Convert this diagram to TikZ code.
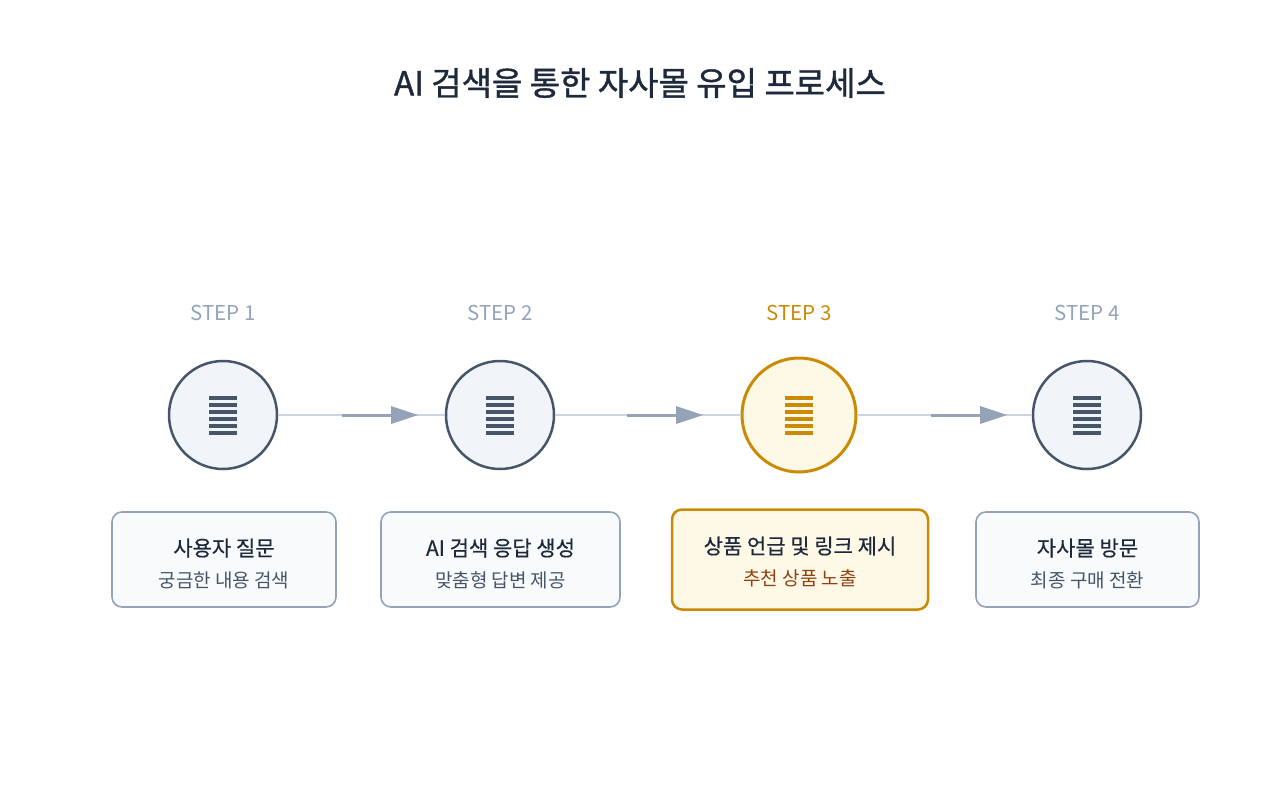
\documentclass[tikz,border=0pt]{standalone}
\usepackage{fontspec}
\setmainfont{Noto Sans CJK KR}
\newfontfamily\medf[FakeBold=1.2]{Noto Sans CJK KR}
\newfontfamily\lmedf[FakeBold=0.5]{Noto Sans CJK KR}
\usetikzlibrary{calc}
\begin{document}
\begin{tikzpicture}[x=1pt,y=-1pt,
  circ/.style={circle,draw=c1,fill=f1,line width=2.5pt,minimum size=108pt,inner sep=0},
  hcirc/.style={circle,draw=c3,fill=f3,line width=3pt,minimum size=114pt,inner sep=0},
  box/.style={rounded corners=10pt,draw=b1,fill=bf,line width=1.6pt,minimum height=95pt,inner sep=0},
  hbox/.style={rounded corners=10pt,draw=c3,fill=f3,line width=2.5pt,minimum height=100pt,inner sep=0},
  stp/.style={font=\fontsize{20.5}{24}\selectfont,text=sg},
  t1/.style={font=\lmedf\fontsize{21}{25}\selectfont,text=tx},
  t2/.style={font=\fontsize{19}{22}\selectfont,text=sub},
  light/.style={draw=lc,line width=2.5pt},
  dark/.style={draw=ac,line width=3pt}]
\definecolor{c1}{HTML}{475569}\definecolor{f1}{HTML}{F1F5F9}
\definecolor{c3}{HTML}{CA8A04}\definecolor{f3}{HTML}{FEF9E7}
\definecolor{b1}{HTML}{94A3B8}\definecolor{bf}{HTML}{F8FAFC}
\definecolor{sg}{HTML}{94A3B8}\definecolor{tx}{HTML}{1E293B}
\definecolor{sub}{HTML}{475569}\definecolor{lc}{HTML}{CBD5E1}
\definecolor{ac}{HTML}{94A3B8}\definecolor{br}{HTML}{92400E}
\useasboundingbox (0,0) rectangle (1280,800);
\node[font=\medf\fontsize{33}{38}\selectfont,text=tx] (title) at (640,83) {AI 검색을 통한 자사몰 유입 프로세스};
\node[stp] (s1) at (223,313) {STEP 1};
\node[stp] (s2) at (500,313) {STEP 2};
\node[stp,text=c3] (s3) at (799,313) {STEP 3};
\node[stp] (s4) at (1087,313) {STEP 4};
\node[circ] (c1) at (223,415) {};
\node[circ] (c2) at (500,415) {};
\node[hcirc] (c3) at (799,415) {};
\node[circ] (c4) at (1087,415) {};
\foreach \x/\c in {223/c1,500/c1,799/c3,1087/c1}{
  \foreach \k in {0,...,5}{
    \draw[draw=\c,line width=3.2pt] (\x-14,398+7*\k) -- (\x+14,398+7*\k);
  }
}
\coordinate (a1s) at (342,415);\coordinate (a1e) at (418,415);
\coordinate (a2s) at (627,415);\coordinate (a2e) at (703,415);
\coordinate (a3s) at (931,415);\coordinate (a3e) at (1007,415);
\draw[light] (c1) -- (c2); \draw[light] (c2) -- (c3); \draw[light] (c3) -- (c4);
\foreach \i in {1,2,3}{
  \draw[dark] (a\i s) -- ($(a\i e)+(-24,0)$);
  \fill[ac] (a\i e) -- ++(-27,-9) -- ++(0,18) -- cycle;
}
\node[box,minimum width=224pt] (b1) at (224,559.5) {};
\node[box,minimum width=239pt] (b2) at (500.5,559.5) {};
\node[hbox,minimum width=256pt] (b3) at (800,559.5) {};
\node[box,minimum width=223pt] (b4) at (1087.5,559.5) {};
\node[t1] (l1a) at (224,548) {사용자 질문};
\node[t2] (l1b) at (224,580) {궁금한 내용 검색};
\node[t1] (l2a) at (500.5,548) {AI 검색 응답 생성};
\node[t2] (l2b) at (500.5,580) {맞춤형 답변 제공};
\node[t1] (l3a) at (800,546) {상품 언급 및 링크 제시};
\node[t2,text=br] (l3b) at (800,578) {추천 상품 노출};
\node[t1] (l4a) at (1087.5,548) {자사몰 방문};
\node[t2] (l4b) at (1087.5,580) {최종 구매 전환};
\end{tikzpicture}
\end{document}
